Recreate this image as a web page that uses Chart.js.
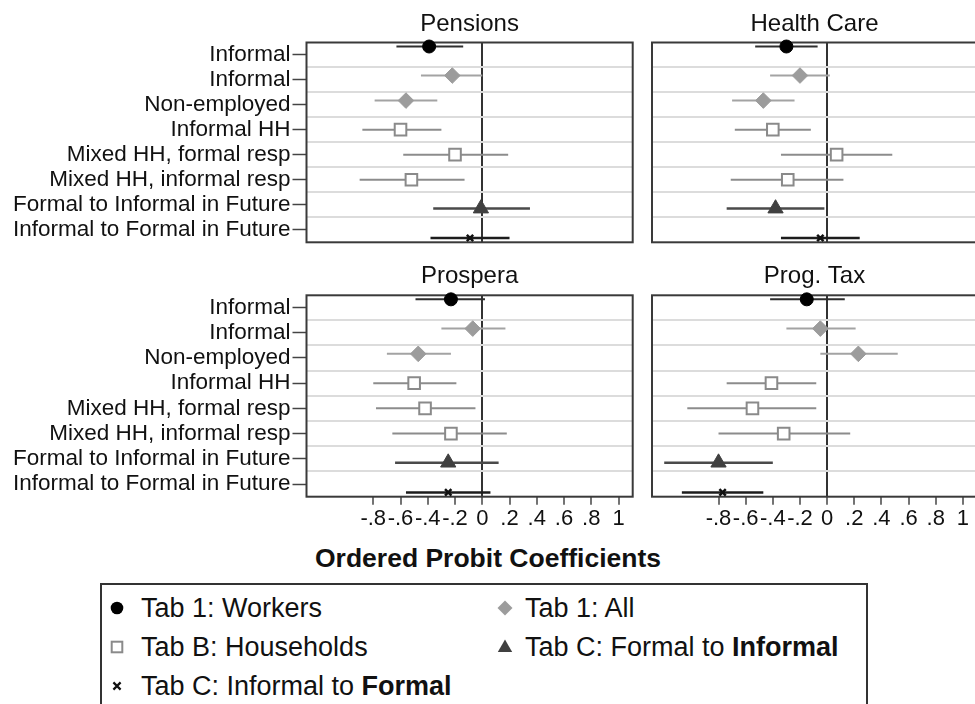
<!DOCTYPE html>
<html>
<head>
<meta charset="utf-8">
<script src="https://cdn.jsdelivr.net/npm/chart.js@4.4.0/dist/chart.umd.min.js"></script>
<style>
  html, body { margin: 0; padding: 0; background: #fff; overflow: hidden; }
  #wrap { position: relative; width: 975px; height: 704px; overflow: hidden; background: #fff;
          font-family: "Liberation Sans", Arial, sans-serif; color: #111; }
  canvas { position: absolute; }
  #xtitle { position: absolute; left: 238px; width: 500px; top: 543px; height: 30px; line-height: 30px;
            text-align: center; font-weight: bold; font-size: 26.5px; }
  #legend { position: absolute; left: 100px; top: 583px; width: 768px; height: 140px;
            border: 2px solid #333; box-sizing: border-box; }
  .item { position: absolute; height: 30px; line-height: 30px; font-size: 27px; white-space: nowrap; }
  .item svg { position: absolute; top: 7px; }
  .item span { position: absolute; top: 0; }
</style>
</head>
<body>
<div id="wrap">
  <canvas id="pPensions" width="640" height="250" style="left:0;top:0"></canvas>
  <canvas id="pHealth" width="345" height="250" style="left:640px;top:0"></canvas>
  <canvas id="pProspera" width="640" height="290" style="left:0;top:250px"></canvas>
  <canvas id="pTax" width="345" height="290" style="left:640px;top:250px"></canvas>
  <div id="xtitle">Ordered Probit Coefficients</div>
  <div id="legend"></div>
</div>
<script>
// Row labels (top to bottom) and which estimate set each row belongs to
const rowLabels = [
  "Informal", "Informal", "Non-employed", "Informal HH",
  "Mixed HH, formal resp", "Mixed HH, informal resp",
  "Formal to Informal in Future", "Informal to Formal in Future"
];
const rowSeries = [0, 1, 1, 2, 2, 2, 3, 4];

const seriesNames = [
  "Tab 1: Workers", "Tab 1: All", "Tab B: Households",
  "Tab C: Formal to Informal", "Tab C: Informal to Formal"
];
const seriesBoldLastWord = [false, false, false, true, true];

const panelTitles = ["Pensions", "Health Care", "Prospera", "Prog. Tax"];
const xTickValues = [-0.8, -0.6, -0.4, -0.2, 0, 0.2, 0.4, 0.6, 0.8, 1];

// Point estimates and 95% confidence bounds, one entry per row
const pensionsCoef = [-0.39, -0.22, -0.56, -0.60, -0.20, -0.52, -0.01, -0.09];
const pensionsLow  = [-0.63, -0.45, -0.79, -0.88, -0.58, -0.90, -0.36, -0.38];
const pensionsHigh = [-0.14,  0.00, -0.33, -0.30,  0.19, -0.13,  0.35,  0.20];

const healthCoef = [-0.30, -0.20, -0.47, -0.40,  0.07, -0.29, -0.38, -0.05];
const healthLow  = [-0.53, -0.42, -0.70, -0.68, -0.34, -0.71, -0.74, -0.34];
const healthHigh = [-0.07,  0.02, -0.24, -0.12,  0.48,  0.12, -0.02,  0.24];

const prosperaCoef = [-0.23, -0.07, -0.47, -0.50, -0.42, -0.23, -0.25, -0.25];
const prosperaLow  = [-0.49, -0.30, -0.70, -0.80, -0.78, -0.66, -0.64, -0.56];
const prosperaHigh = [ 0.02,  0.17, -0.23, -0.19, -0.05,  0.18,  0.12,  0.06];

const taxCoef = [-0.15, -0.05,  0.23, -0.41, -0.55, -0.32, -0.80, -0.77];
const taxLow  = [-0.42, -0.30, -0.05, -0.74, -1.03, -0.80, -1.20, -1.07];
const taxHigh = [ 0.13,  0.21,  0.52, -0.08, -0.08,  0.17, -0.40, -0.47];

// ---- styling ----
const FONT = '"Liberation Sans", Arial, sans-serif';
const X_MIN = -1.29, X_MAX = 1.104;
const Y_MIN = 0.52, Y_MAX = 8.5;
const seriesOffset = [-0.32, -0.16, 0, 0.15, 0.33];
const seriesStyle = [
  { pointStyle: 'circle',   radius: 6.5, bg: '#000',    border: '#000',    bw: 1,   ci: '#2e2e2e', ciw: 2 },
  { pointStyle: 'rectRot',  radius: 7.8, bg: '#9c9c9c', border: '#9c9c9c', bw: 1,   ci: '#a3a3a3', ciw: 2 },
  { pointStyle: 'rect',     radius: 8.2, bg: '#fff',    border: '#8a8a8a', bw: 2,   ci: '#8c8c8c', ciw: 2 },
  { pointStyle: 'triangle', radius: 8.8, bg: '#404040', border: '#404040', bw: 1,   ci: '#4a4a4a', ciw: 2.5 },
  { pointStyle: 'crossRot', radius: 4.5, bg: '#000',    border: '#111',    bw: 2.5, ci: '#1c1c1c', ciw: 2.5 }
];

function fmtTick(v) {
  if (Math.abs(v) < 1e-9) return '0';
  if (Math.abs(v - 1) < 1e-9) return '1';
  return (v < 0 ? '-' : '') + '.' + Math.round(Math.abs(v) * 10);
}

// Horizontal confidence-interval whiskers, drawn beneath the markers
const ciPlugin = {
  id: 'ciWhiskers',
  beforeDatasetsDraw(chart) {
    const { ctx, scales } = chart;
    const xs = scales.x, ys = scales.y;
    ctx.save();
    ctx.lineCap = 'butt';
    chart.data.datasets.forEach(ds => {
      ctx.strokeStyle = ds.ciColor;
      ctx.lineWidth = ds.ciWidth;
      ds.data.forEach(p => {
        const py = ys.getPixelForValue(p.y);
        ctx.beginPath();
        ctx.moveTo(xs.getPixelForValue(p.lo), py);
        ctx.lineTo(xs.getPixelForValue(p.hi), py);
        ctx.stroke();
      });
    });
    ctx.restore();
  }
};

// Box around each plot region, plus the panel heading centred over it
const framePlugin = {
  id: 'frame',
  beforeDatasetsDraw(chart) {
    const { ctx, chartArea: a } = chart;
    ctx.save();
    ctx.strokeStyle = '#3a3a3a';
    ctx.lineWidth = 2;
    ctx.strokeRect(a.left, a.top, a.right - a.left, a.bottom - a.top);
    ctx.restore();
  },
  afterDraw(chart, args, opts) {
    const { ctx, chartArea: a } = chart;
    ctx.save();
    ctx.fillStyle = '#111';
    ctx.font = '24px ' + FONT;
    ctx.textAlign = 'center';
    ctx.textBaseline = 'alphabetic';
    ctx.fillText(opts.text, (a.left + a.right) / 2, a.top - opts.gap);
    ctx.restore();
  }
};

function buildDatasets(coef, lo, hi) {
  return seriesNames.map((name, s) => {
    const st = seriesStyle[s];
    const pts = [];
    rowSeries.forEach((ser, r) => {
      if (ser === s) pts.push({ x: coef[r], y: r + 1 + seriesOffset[s], lo: lo[r], hi: hi[r] });
    });
    return {
      label: name, data: pts, showLine: false, clip: false,
      pointStyle: st.pointStyle, pointRadius: st.radius,
      pointBackgroundColor: st.bg, pointBorderColor: st.border, pointBorderWidth: st.bw,
      ciColor: st.ci, ciWidth: st.ciw
    };
  });
}

function makePanel(canvasId, title, coef, lo, hi, p) {
  const chart = new Chart(document.getElementById(canvasId), {
    type: 'scatter',
    data: { datasets: buildDatasets(coef, lo, hi) },
    options: {
      responsive: false, animation: false, devicePixelRatio: 1,
      layout: { autoPadding: false, padding: { left: p.area.left - p.yWidth, right: 0, top: p.area.top, bottom: 0 } },
      plugins: {
        legend: { display: false },
        tooltip: { enabled: false },
        title: { display: false },
        frame: { text: title, gap: p.titleGap }
      },
      scales: {
        x: {
          type: 'linear', position: 'bottom', min: X_MIN, max: X_MAX,
          afterBuildTicks: sc => { sc.ticks = xTickValues.map(v => ({ value: v })); },
          afterFit: sc => { sc.height = p.xLabels ? 36 : 0; sc.paddingLeft = 0; sc.paddingRight = 0; },
          ticks: {
            display: p.xLabels, autoSkip: false, maxRotation: 0, minRotation: 0,
            color: '#111', padding: 1, font: { family: FONT, size: 22 },
            callback: v => fmtTick(v)
          },
          grid: {
            color: c => (c.tick && Math.abs(c.tick.value) < 1e-9) ? '#333' : 'rgba(0,0,0,0)',
            lineWidth: 2, drawTicks: p.xLabels, tickLength: 8, tickColor: '#444', tickWidth: 1.5
          },
          border: { display: false }
        },
        y: {
          type: 'linear', position: 'left', reverse: true, min: Y_MIN, max: Y_MAX,
          afterBuildTicks: sc => { sc.ticks = rowLabels.map((_, i) => ({ value: i + 1 })); },
          afterFit: sc => { sc.width = p.yWidth; sc.paddingTop = 0; sc.paddingBottom = 0; },
          ticks: {
            display: p.yLabels, autoSkip: false, color: '#111', padding: 2,
            font: { family: FONT, size: 22.5 },
            callback: v => rowLabels[Math.round(v) - 1]
          },
          grid: { drawOnChartArea: false, drawTicks: p.yLabels, tickLength: 14, tickColor: '#444', tickWidth: 1.5, color: '#444' },
          border: { display: false }
        },
        yg: {
          type: 'linear', position: 'left', reverse: true, min: Y_MIN, max: Y_MAX,
          afterBuildTicks: sc => { sc.ticks = rowLabels.slice(1).map((_, i) => ({ value: i + 1.5 })); },
          afterFit: sc => { sc.width = 0; sc.paddingTop = 0; sc.paddingBottom = 0; },
          ticks: { display: false },
          grid: { color: '#dcdcdc', lineWidth: 2, drawTicks: false },
          border: { display: false }
        }
      }
    },
    plugins: [framePlugin, ciPlugin]
  });

  // nudge the layout padding until the plot region sits where it should
  const pad = chart.config.options.layout.padding;
  const cw = chart.width, ch = chart.height;
  pad.right = cw - p.area.right;
  pad.bottom = ch - p.area.bottom - (p.xLabels ? 36 : 0);
  chart.update('none');
  for (let k = 0; k < 4; k++) {
    const a = chart.chartArea;
    const dl = p.area.left - a.left, dr = a.right - p.area.right;
    const dt = p.area.top - a.top, db = a.bottom - p.area.bottom;
    if (Math.abs(dl) + Math.abs(dr) + Math.abs(dt) + Math.abs(db) < 0.05) break;
    pad.left += dl; pad.right += dr; pad.top += dt; pad.bottom += db;
    chart.update('none');
  }
  return chart;
}

// plot regions in each canvas's own pixel space
const areaTopLeft  = { left: 306.5, right: 632.7, top: 42.5, bottom: 242.3 };
const areaTopRight = { left: 12,    right: 337,   top: 42.5, bottom: 242.3 };
const areaBotLeft  = { left: 306.5, right: 632.7, top: 45.3, bottom: 246.7 };
const areaBotRight = { left: 12,    right: 337,   top: 45.3, bottom: 246.7 };

makePanel('pPensions', panelTitles[0], pensionsCoef, pensionsLow, pensionsHigh,
  { area: areaTopLeft, yWidth: 306.5, yLabels: true, xLabels: false, titleGap: 11.5 });
makePanel('pHealth', panelTitles[1], healthCoef, healthLow, healthHigh,
  { area: areaTopRight, yWidth: 0, yLabels: false, xLabels: false, titleGap: 11.5 });
makePanel('pProspera', panelTitles[2], prosperaCoef, prosperaLow, prosperaHigh,
  { area: areaBotLeft, yWidth: 306.5, yLabels: true, xLabels: true, titleGap: 12 });
makePanel('pTax', panelTitles[3], taxCoef, taxLow, taxHigh,
  { area: areaBotRight, yWidth: 0, yLabels: false, xLabels: true, titleGap: 12 });

// ---- legend ----
function markerSvg(s) {
  const st = seriesStyle[s];
  const c = 8;
  let shape = '';
  if (st.pointStyle === 'circle') shape = `<circle cx="${c}" cy="${c}" r="6.3" fill="${st.bg}"/>`;
  else if (st.pointStyle === 'rectRot') shape = `<polygon points="${c},${c - 7.5} ${c + 7.5},${c} ${c},${c + 7.5} ${c - 7.5},${c}" fill="${st.bg}"/>`;
  else if (st.pointStyle === 'rect') shape = `<rect x="${c - 5.3}" y="${c - 5.3}" width="10.6" height="10.6" fill="#fff" stroke="${st.border}" stroke-width="2"/>`;
  else if (st.pointStyle === 'triangle') shape = `<polygon points="${c},${c - 7.5} ${c + 7.2},${c + 5} ${c - 7.2},${c + 5}" fill="${st.bg}"/>`;
  else shape = `<path d="M${c - 3.6} ${c - 3.6} L${c + 3.6} ${c + 3.6} M${c + 3.6} ${c - 3.6} L${c - 3.6} ${c + 3.6}" stroke="${st.border}" stroke-width="2.2"/>`;
  return `<svg width="16" height="16" viewBox="0 0 16 16">${shape}</svg>`;
}
function legendText(s) {
  const name = seriesNames[s];
  if (!seriesBoldLastWord[s]) return name;
  const cut = name.lastIndexOf(' ');
  return name.slice(0, cut + 1) + '<b>' + name.slice(cut + 1) + '</b>';
}
// [series, column, row] placement inside the legend box
const legendSlots = [[0, 0, 0], [1, 1, 0], [2, 0, 1], [3, 1, 1], [4, 0, 2]];
const legendColMarker = [16.7, 405], legendColText = [41, 425];
const legendRowCenter = [25, 64, 103];
const legendEl = document.getElementById('legend');
legendSlots.forEach(([s, col, row]) => {
  const d = document.createElement('div');
  d.className = 'item';
  d.style.left = '0px';
  d.style.top = (legendRowCenter[row] - 2 - 15) + 'px';
  d.innerHTML = `<span style="left:${legendColMarker[col] - 2 - 8}px;width:16px;height:30px;">${markerSvg(s)}</span>` +
                `<span style="left:${legendColText[col] - 2}px">${legendText(s)}</span>`;
  legendEl.appendChild(d);
});
</script>
</body>
</html>
